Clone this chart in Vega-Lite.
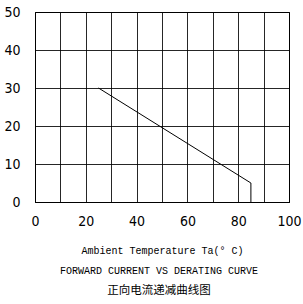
{
  "$schema": "https://vega.github.io/schema/vega-lite/v6.json",
  "autosize": {"type": "none"},
  "width": 254,
  "height": 190,
  "padding": {"left": 35, "top": 12, "right": 14, "bottom": 102},
  "background": "white",
  "data": {"values": [
    {"temp": 25, "current": 30},
    {"temp": 85, "current": 5},
    {"temp": 85, "current": 0}
  ]},
  "mark": {"type": "line", "color": "black", "strokeWidth": 1},
  "encoding": {
    "x": {
      "field": "temp", "type": "quantitative",
      "scale": {"domain": [0, 100], "nice": false},
      "axis": {
        "values": [0, 10, 20, 30, 40, 50, 60, 70, 80, 90, 100],
        "labelExpr": "datum.value % 20 == 0 ? datum.label : ''",
        "grid": true, "gridColor": "black", "gridOpacity": 0.85, "gridWidth": 1,
        "domainColor": "black", "ticks": false,
        "labelFont": "Liberation Sans Narrow, DejaVu Sans Condensed, sans-serif",
        "labelFontSize": 14, "labelColor": "black", "labelPadding": 12,
        "labelFlush": false, "labelOverlap": false,
        "title": "Ambient Temperature Ta(° C)",
        "titleFont": "Liberation Mono, monospace", "titleFontSize": 10,
        "titleFontWeight": "normal", "titleColor": "black", "titlePadding": 17
      }
    },
    "y": {
      "field": "current", "type": "quantitative",
      "scale": {"domain": [0, 50], "nice": false},
      "axis": {
        "values": [0, 10, 20, 30, 40, 50],
        "grid": true, "gridColor": "black", "gridOpacity": 0.85, "gridWidth": 1,
        "domainColor": "black", "ticks": false,
        "labelFont": "Liberation Sans Narrow, DejaVu Sans Condensed, sans-serif",
        "labelFontSize": 14, "labelColor": "black", "labelPadding": 15,
        "labelFlush": false,
        "title": null
      }
    }
  },
  "title": {
    "text": ["FORWARD CURRENT VS DERATING CURVE"],
    "subtitle": "正向电流递减曲线图",
    "orient": "bottom",
    "anchor": "middle",
    "dx": -3,
    "font": "Liberation Mono, monospace",
    "fontSize": 10,
    "fontWeight": "normal",
    "color": "black",
    "subtitleFont": "Noto Sans CJK SC",
    "subtitleFontSize": 11.5,
    "subtitleColor": "black",
    "subtitlePadding": 9,
    "offset": 11
  },
  "config": {"view": {"stroke": "black", "strokeWidth": 1}}
}
